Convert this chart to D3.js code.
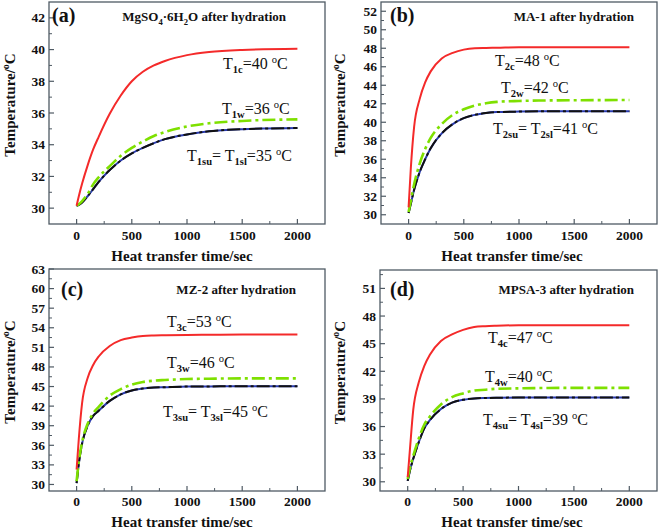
<!DOCTYPE html>
<html><head><meta charset="utf-8">
<script src="https://cdnjs.cloudflare.com/ajax/libs/d3/7.8.5/d3.min.js"></script>
<style>body{margin:0;background:#fff}svg{display:block}</style>
</head><body>
<script>
// ---- data ----
const times = [0, 20, 50, 100, 150, 200, 300, 400, 500, 600, 700, 800, 1000, 1200, 1500, 2000];

const aCore  = [30.15, 30.75, 31.55, 32.7, 33.7, 34.5, 35.95, 37.1, 38.0, 38.6, 39.0, 39.28, 39.65, 39.85, 39.98, 40.05];
const aWall  = [30.15, 30.25, 30.45, 30.9, 31.5, 31.95, 32.65, 33.3, 33.8, 34.2, 34.55, 34.8, 35.15, 35.35, 35.5, 35.6];
const aSurf  = [30.15, 30.2, 30.35, 30.75, 31.2, 31.65, 32.4, 33.0, 33.45, 33.8, 34.1, 34.35, 34.65, 34.85, 34.98, 35.05];

const bCore  = [30.8, 35.0, 39.5, 42.5, 44.3, 45.5, 46.9, 47.5, 47.85, 48.0, 48.03, 48.05, 48.1, 48.1, 48.1, 48.1];
const bWall  = [30.3, 31.5, 33.3, 35.5, 37.1, 38.3, 39.8, 40.8, 41.4, 41.8, 42.05, 42.2, 42.3, 42.35, 42.38, 42.4];
const bSurf  = [30.2, 31.2, 32.7, 34.6, 36.0, 37.2, 38.8, 39.8, 40.45, 40.8, 41.0, 41.1, 41.15, 41.18, 41.2, 41.2];

const cCore  = [32.3, 37.0, 42.5, 46.3, 48.3, 49.6, 51.2, 52.1, 52.5, 52.75, 52.82, 52.85, 52.9, 52.92, 52.95, 52.95];
const cWall  = [30.5, 33.5, 36.5, 39.3, 40.9, 41.9, 43.6, 44.6, 45.3, 45.7, 45.9, 46.0, 46.15, 46.2, 46.25, 46.25];
const cSurf  = [30.2, 33.2, 36.3, 39.0, 40.5, 41.3, 42.8, 43.8, 44.4, 44.7, 44.85, 44.9, 45.0, 45.02, 45.05, 45.05];

const dCore  = [30.5, 33.5, 37.8, 40.8, 42.6, 43.8, 45.3, 46.0, 46.5, 46.8, 46.9, 46.95, 47.0, 47.0, 47.0, 47.0];
const dWall  = [30.3, 31.5, 32.8, 34.7, 36.2, 37.1, 38.4, 39.2, 39.6, 39.9, 40.0, 40.1, 40.15, 40.18, 40.2, 40.2];
const dSurf  = [30.1, 31.2, 32.5, 34.3, 35.8, 36.7, 37.9, 38.6, 38.9, 39.05, 39.1, 39.12, 39.15, 39.15, 39.15, 39.15];

const xTicks = [0, 500, 1000, 1500, 2000];
const yTicksA = [30, 32, 34, 36, 38, 40, 42];
const yTicksB = [30, 32, 34, 36, 38, 40, 42, 44, 46, 48, 50, 52];
const yTicksC = [30, 33, 36, 39, 42, 45, 48, 51, 54, 57, 60, 63];
const yTicksD = [30, 33, 36, 39, 42, 45, 48, 51];

const panelTags = ["(a)", "(b)", "(c)", "(d)"];
const panelTitles = ["MgSO_{4}·6H_{2}O after hydration", "MA-1 after hydration", "MZ-2 after hydration", "MPSA-3 after hydration"];
const coreLabels = ["T_{1c}=40 ^{o}C", "T_{2c}=48 ^{o}C", "T_{3c}=53 ^{o}C", "T_{4c}=47 ^{o}C"];
const wallLabels = ["T_{1w}=36 ^{o}C", "T_{2w}=42 ^{o}C", "T_{3w}=46 ^{o}C", "T_{4w}=40 ^{o}C"];
const surfLabels = ["T_{1su}= T_{1sl}=35 ^{o}C", "T_{2su}= T_{2sl}=41 ^{o}C", "T_{3su}= T_{3sl}=45 ^{o}C", "T_{4su}= T_{4sl}=39 ^{o}C"];
const xTitle = "Heat transfer time/sec";
const yTitle = "Temperature/^{o}C";

// ---- layout ----
const layout = [
  {l:49, r:325, t:2,   b:224, ydom:[29,43], yt:yTicksA, ystep:2, tag:[52,22], title:[286,21], lab:[[223,69],[222,114],[187,161]], yx:15, xt:[182,261], xl:240},
  {l:381,r:657, t:2,   b:224, ydom:[29,53], yt:yTicksB, ystep:2, tag:[390,22], title:[634,21], lab:[[495,66],[501,93],[493,134]], yx:345, xt:[512,261], xl:240},
  {l:49, r:325, t:269, b:491, ydom:[29,63], yt:yTicksC, ystep:3, tag:[61,296], title:[296,294], lab:[[167,327],[167,368],[163,417]], yx:15, xt:[182,527], xl:506},
  {l:380,r:657, t:270, b:491, ydom:[29,53], yt:yTicksD, ystep:3, tag:[390,296], title:[634,294], lab:[[488,343],[485,382],[483,425]], yx:345, xt:[512,527], xl:506}
];
const series = [[aCore,aWall,aSurf],[bCore,bWall,bSurf],[cCore,cWall,cSurf],[dCore,dWall,dSurf]];

const svg = d3.select("body").append("svg").attr("width",658).attr("height",532);
const SERIF = "'Liberation Serif','Times New Roman',serif";
const AX = "#4f5a64";

function rich(sel, str, x, y, size, bold, anchor, subBold){
  const t = sel.append("text").attr("x",x).attr("y",y).attr("font-family",SERIF)
    .attr("font-size",size).attr("font-weight",bold?"bold":"normal").attr("fill","#111")
    .attr("text-anchor",anchor||"start");
  const re = /(_\{[^}]*\}|\^\{[^}]*\})/;
  const parts = str.split(re).filter(s=>s.length);
  let shift = 0;
  parts.forEach(p=>{
    if(p.startsWith("_{")){
      const s = t.append("tspan").text(p.slice(2,-1)).attr("font-size",size*0.66).attr("dy",size*0.28-shift);
      if(subBold) s.attr("font-weight","bold");
      shift = size*0.28;
    } else if(p.startsWith("^{")){
      t.append("tspan").text(p.slice(2,-1)).attr("font-size",size*0.66).attr("dy",-size*0.38-shift);
      shift = -size*0.38;
    } else {
      t.append("tspan").text(p).attr("dy",-shift);
      shift = 0;
    }
  });
  return t;
}

layout.forEach((L,i)=>{
  const g = svg.append("g");
  const x = d3.scaleLinear().domain([-250,2250]).range([L.l,L.r]);
  const y = d3.scaleLinear().domain(L.ydom).range([L.b,L.t]);
  const pts = times.map((t,k)=>k);
  const line = vals => d3.line().curve(d3.curveMonotoneX).x(k=>x(times[k])).y(k=>y(vals[k]))(pts);
  const [core, wall, surf] = series[i];

  // curves
  g.append("path").attr("d",line(surf)).attr("fill","none").attr("stroke","#2a3bb0").attr("stroke-width",2);
  g.append("path").attr("d",line(surf)).attr("fill","none").attr("stroke","#111").attr("stroke-width",2)
    .attr("stroke-dasharray","13,3,3,3");
  g.append("path").attr("d",line(wall)).attr("fill","none").attr("stroke","#7ee000").attr("stroke-width",2.6)
    .attr("stroke-dasharray","13,4,3,4");
  g.append("path").attr("d",line(core)).attr("fill","none").attr("stroke","#f42a2a").attr("stroke-width",2);

  // frame
  g.append("rect").attr("x",L.l).attr("y",L.t).attr("width",L.r-L.l).attr("height",L.b-L.t)
    .attr("fill","none").attr("stroke",AX).attr("stroke-width",1.3);

  // x ticks (inward)
  const xMinor = d3.range(-250, 2251, 250).filter(v=>v>-250 && v<2250 && !xTicks.includes(v));
  xTicks.forEach(v=>{
    g.append("line").attr("x1",x(v)).attr("x2",x(v)).attr("y1",L.b).attr("y2",L.b-5).attr("stroke",AX).attr("stroke-width",1.2);
    g.append("text").attr("x",x(v)).attr("y",L.xl).attr("text-anchor","middle").attr("font-family",SERIF)
      .attr("font-weight","bold").attr("font-size",13.5).attr("fill","#111").text(v);
  });
  xMinor.forEach(v=>{
    g.append("line").attr("x1",x(v)).attr("x2",x(v)).attr("y1",L.b).attr("y2",L.b-3).attr("stroke",AX).attr("stroke-width",1);
  });
  // y ticks
  L.yt.forEach(v=>{
    g.append("line").attr("x1",L.l).attr("x2",L.l+5).attr("y1",y(v)).attr("y2",y(v)).attr("stroke",AX).attr("stroke-width",1.2);
    g.append("text").attr("x",L.l-4).attr("y",y(v)+4.5).attr("text-anchor","end").attr("font-family",SERIF)
      .attr("font-weight","bold").attr("font-size",13.5).attr("fill","#111").text(v);
  });
  L.yt.forEach(v=>{
    const m = v + L.ystep/2;
    if(m < L.ydom[1]) g.append("line").attr("x1",L.l).attr("x2",L.l+3).attr("y1",y(m)).attr("y2",y(m)).attr("stroke",AX).attr("stroke-width",1);
  });

  // tag & title
  g.append("text").attr("x",L.tag[0]).attr("y",L.tag[1]).attr("font-family",SERIF).attr("font-weight","bold")
    .attr("font-size",20).attr("fill","#111").text(panelTags[i]);
  rich(g, panelTitles[i], L.title[0], L.title[1], 13, true, "end");

  // annotations
  rich(g, coreLabels[i], L.lab[0][0], L.lab[0][1], 16, false, "start", true);
  rich(g, wallLabels[i], L.lab[1][0], L.lab[1][1], 16, false, "start", true);
  rich(g, surfLabels[i], L.lab[2][0], L.lab[2][1], 16, false, "start", true);

  // axis titles
  rich(g, xTitle, L.xt[0], L.xt[1], 15, true, "middle");
  const yt = rich(g, yTitle, 0, 0, 15, true, "middle");
  yt.attr("transform",`translate(${L.yx},${(L.t+L.b)/2-8}) rotate(-90)`);
});
</script>
</body></html>
